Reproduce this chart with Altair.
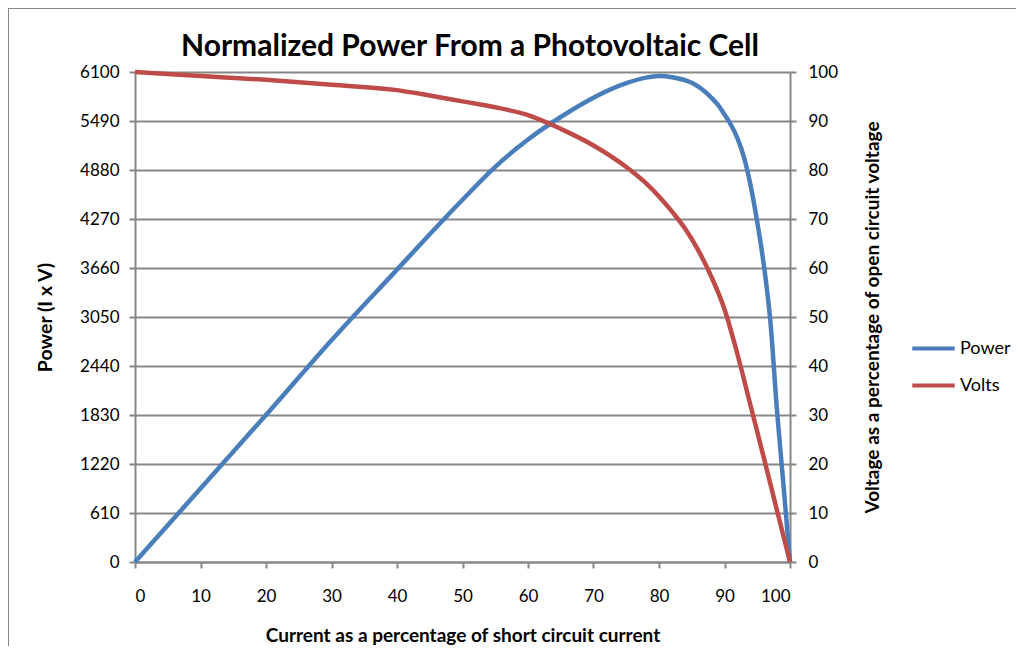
import altair as alt
import pandas as pd

# Data
power_x = [0, 10, 20, 30, 40, 45, 50, 55, 60, 65, 70, 75, 78, 80, 82, 85, 88, 89, 90, 91, 92, 93, 94, 95, 96, 97, 98, 99, 100]
power_y = [0, 915, 1830, 2760, 3640, 4080, 4510, 4920, 5260, 5540, 5780, 5960, 6030, 6050, 6035, 5965, 5780, 5690, 5570, 5440, 5270, 5030, 4680, 4230, 3700, 3000, 1900, 960, 0]

volts_x = [0, 10, 20, 30, 40, 45, 50, 55, 60, 65, 70, 75, 78, 80, 82, 84, 86, 88, 90, 92, 94, 96, 98, 100]
volts_y = [100, 99.2, 98.4, 97.4, 96.3, 95.2, 94.0, 92.8, 91.2, 88.4, 85.0, 80.6, 77.3, 74.6, 71.5, 68.0, 63.6, 58.2, 51.6, 42.3, 31.8, 21.3, 10.6, 0]

power_ticks = [0, 610, 1220, 1830, 2440, 3050, 3660, 4270, 4880, 5490, 6100]
volt_ticks = [0, 10, 20, 30, 40, 50, 60, 70, 80, 90, 100]
x_ticks = [0, 10, 20, 30, 40, 50, 60, 70, 80, 90, 100]

series_names = ["Power", "Volts"]
series_colors = ["#4A7EBB", "#BE4B48"]

chart_title = "Normalized Power From a Photovoltaic  Cell"

power_df = pd.DataFrame({"current": power_x, "value": power_y, "series": "Power"})
volts_df = pd.DataFrame({"current": volts_x, "value": volts_y, "series": "Volts"})

FONT = "Lato"
GRID = "#878787"

color = alt.Color(
    "series:N",
    scale=alt.Scale(domain=series_names, range=series_colors),
    legend=alt.Legend(
        title=None,
        orient="none",
        legendX=775,
        legendY=253,
        symbolType="stroke",
        symbolSize=1800,
        symbolStrokeWidth=4,
        labelFontSize=18,
        labelFont=FONT,
        labelColor="#000000",
        labelOffset=3,
        rowPadding=4,
    ),
)

x_enc = alt.X(
    "current:Q",
    scale=alt.Scale(domain=[0, 100], nice=False),
    axis=alt.Axis(
        values=x_ticks,
        format="d",
        title="Current as a percentage of short circuit  current",
        titleFontSize=19,
        titleFontWeight="bold",
        titleFont=FONT,
        titleY=73,
        titleBaseline="middle",
        labelFontSize=17,
        labelFont=FONT,
        labelPadding=20,
        tickSize=6,
        grid=False,
        domainColor=GRID,
        domainWidth=2,
        tickColor=GRID,
        tickWidth=2,
        labelColor="#000000",
        titleColor="#000000",
    ),
)

power_line = alt.Chart(power_df).mark_line(strokeWidth=4.5, interpolate="monotone").encode(
    x=x_enc,
    y=alt.Y(
        "value:Q",
        scale=alt.Scale(domain=[0, 6100], nice=False),
        axis=alt.Axis(
            values=power_ticks,
            format="d",
            orient="left",
            title="Power (I x V)",
            titleFontSize=19.5,
            titleFontWeight="bold",
            titleFont=FONT,
            titleAngle=270,
            titleX=-90,
            titleY=245,
            titleBaseline="middle",
            labelFontSize=17,
            labelFont=FONT,
            labelPadding=10,
            tickSize=6,
            grid=True,
            gridColor=GRID,
            gridWidth=2,
            domainColor=GRID,
            domainWidth=2,
            tickColor=GRID,
            tickWidth=2,
            labelColor="#000000",
            titleColor="#000000",
        ),
    ),
    color=color,
)

volts_line = alt.Chart(volts_df).mark_line(strokeWidth=4.5, interpolate="monotone").encode(
    x=x_enc,
    y=alt.Y(
        "value:Q",
        scale=alt.Scale(domain=[0, 100], nice=False),
        axis=alt.Axis(
            values=volt_ticks,
            format="d",
            orient="right",
            title="Voltage as a percentage of open circuit voltage",
            titleFontSize=19,
            titleFontWeight="bold",
            titleFont=FONT,
            titleAngle=270,
            titleX=82,
            titleY=245,
            titleBaseline="middle",
            labelFontSize=17,
            labelFont=FONT,
            labelPadding=12,
            tickSize=6,
            grid=False,
            domainColor=GRID,
            domainWidth=2,
            tickColor=GRID,
            tickWidth=2,
            labelColor="#000000",
            titleColor="#000000",
        ),
    ),
    color=color,
)

frame = alt.Chart(pd.DataFrame({"a": [0]})).mark_rect(
    fill="transparent", stroke=GRID, strokeWidth=2
).encode(
    x=alt.value(-127),
    x2=alt.value(1000),
    y=alt.value(-64),
    y2=alt.value(700),
)

title_text = alt.Chart(pd.DataFrame({"t": [chart_title]})).mark_text(
    fontSize=30, font=FONT, fontWeight="bold", align="center", baseline="alphabetic", color="#000000"
).encode(
    text="t:N",
    x=alt.value(335),
    y=alt.value(-16),
)

chart = (
    alt.layer(power_line, volts_line, frame, title_text)
    .resolve_scale(y="independent")
    .properties(
        width=655,
        height=490,
        padding={"left": 127, "top": 64, "right": 226, "bottom": 84},
        autosize=alt.AutoSizeParams(type="none"),
    )
    .configure_view(stroke=None)
    .configure(background="white")
)

chart.save("out.html", embed_options={"renderer": "svg", "actions": False})
